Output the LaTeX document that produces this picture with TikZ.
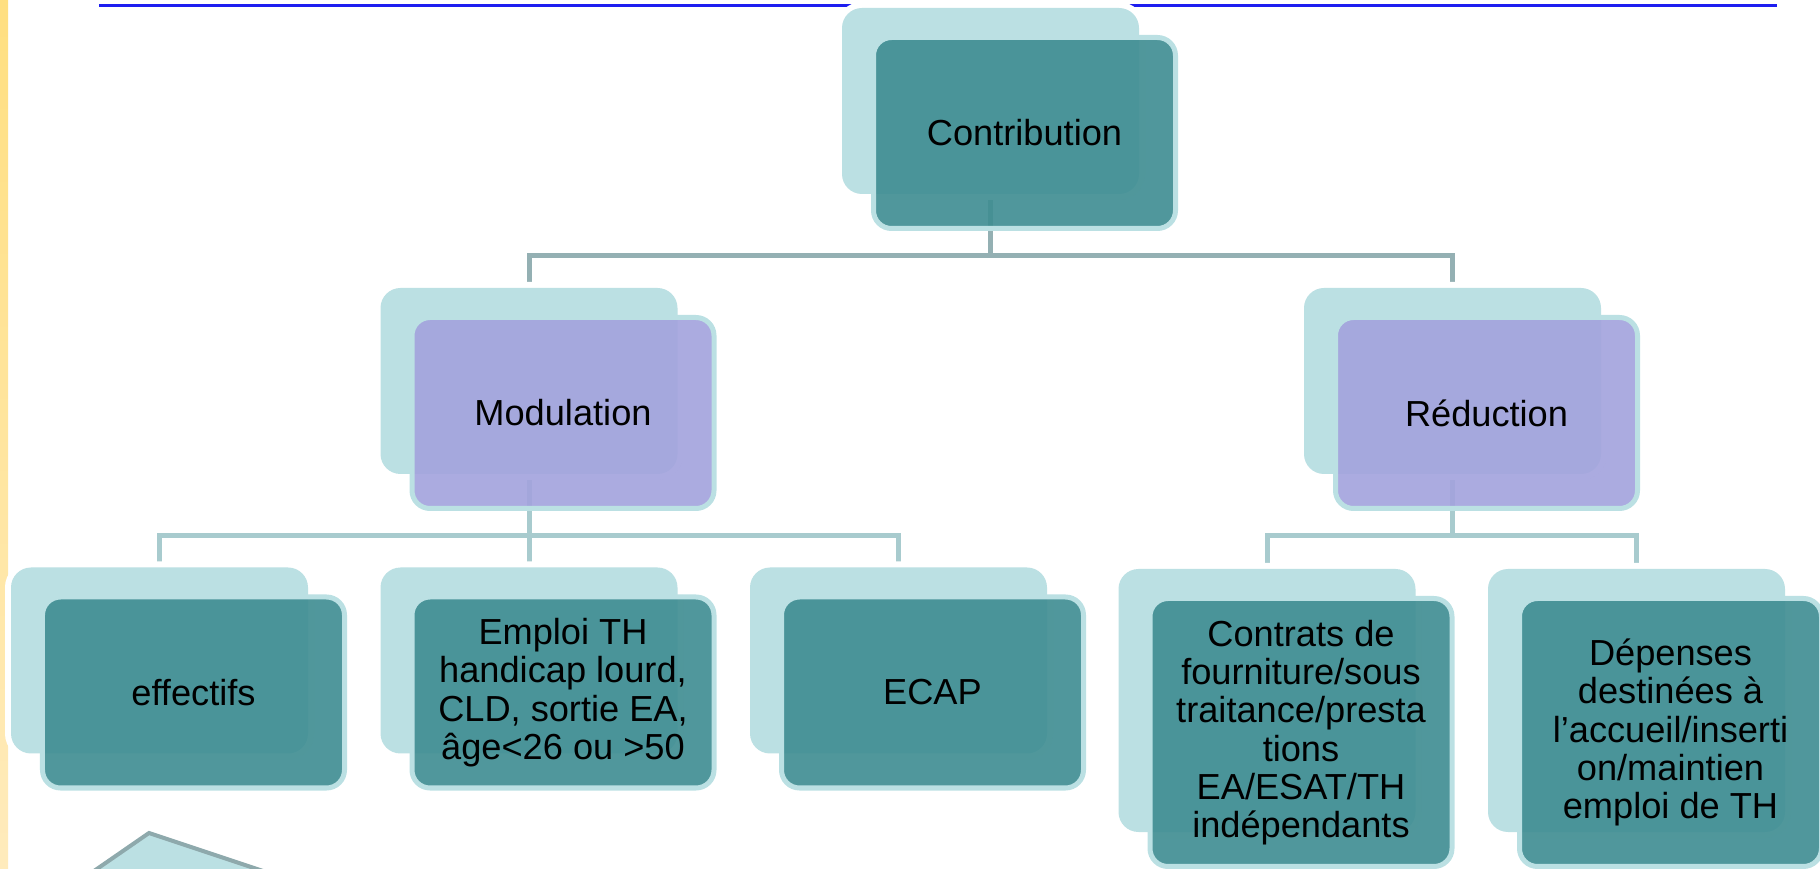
\documentclass[tikz,border=0pt]{standalone}
\usepackage{fontspec}
\setmainfont{Liberation Sans}
\usetikzlibrary{backgrounds}
\definecolor{boxlight}{HTML}{BBE0E3}
\definecolor{boxteal}{HTML}{3F8D92}
\definecolor{boxviolet}{HTML}{A3A3DD}
\definecolor{linkgrey}{HTML}{94B0B3}
\definecolor{linklight}{HTML}{A8CBCE}
\definecolor{ruleblue}{HTML}{1E1EF0}
\definecolor{shapeedge}{HTML}{8EA9AC}
\begin{document}
\begin{tikzpicture}
\tikzstyle{back}=[rectangle,rounded corners=0.2cm,fill=boxlight,preaction={draw=white,line width=0.12cm},minimum width=2.97cm,minimum height=1.86cm,inner sep=0pt,outer sep=0pt]
\tikzstyle{front}=[rectangle,rounded corners=0.18cm,draw=boxlight,line width=0.05cm,fill=boxteal,fill opacity=0.91,text opacity=1,minimum width=3.02cm,minimum height=1.91cm,inner sep=0pt,outer sep=0pt,align=center,font=\fontsize{10.3pt}{10.9pt}\selectfont]
\tikzstyle{link}=[linkgrey,line width=0.05cm]
\useasboundingbox (0,0) rectangle (18.2,-8.69);
\shade[top color={rgb,255:red,255;green,223;blue,128},bottom color={rgb,255:red,255;green,235;blue,188}] (0,0) rectangle (0.08,-8.69);
\node[back] (ContribB) at (9.905,-1.01) {};
\node[front] (Contrib) at (10.245,-1.33) {Contribution};
\node[back] (ModB) at (5.29,-3.81) {};
\node[front,fill=boxviolet] (Mod) at (5.63,-4.13) {Modulation};
\node[back] (RedB) at (14.525,-3.81) {};
\node[front,fill=boxviolet] (Red) at (14.865,-4.13) {Réduction};
\node[back] (EffB) at (1.595,-6.605) {};
\node[front] (Eff) at (1.935,-6.925) {effectifs};
\node[back] (EmpB) at (5.29,-6.605) {};
\node[front] (Emp) at (5.63,-6.925) {Emploi TH\\handicap lourd,\\CLD, sortie EA,\\âge<26 ou >50};
\node[back] (EcapB) at (8.985,-6.605) {};
\node[front] (Ecap) at (9.325,-6.925) {ECAP};
\node[back,minimum height=2.63cm] (ConB) at (12.67,-7.005) {};
\node[front,minimum height=2.68cm] (Con) at (13.01,-7.325) {Contrats de\\fourniture/sous\\traitance/presta\\tions\\EA/ESAT/TH\\indépendants};
\node[back,minimum height=2.63cm] (DepB) at (16.365,-7.005) {};
\node[front,minimum height=2.68cm] (Dep) at (16.705,-7.325) {Dépenses\\destinées à\\l’accueil/inserti\\on/maintien\\emploi de TH};
\begin{scope}[on background layer]
\draw[ruleblue,line width=0.03cm] (0.99,-0.055) -- (17.77,-0.055);
\draw[link] (ContribB.south) -- ++(0,-0.62) -| (ModB.north);
\draw[link] (ContribB.south) -- ++(0,-0.62) -| (RedB.north);
\draw[link,linklight] (ModB.south) -- ++(0,-0.62) -| (EffB.north);
\draw[link,linklight] (ModB.south) -- ++(0,-0.62) -| (EmpB.north);
\draw[link,linklight] (ModB.south) -- ++(0,-0.62) -| (EcapB.north);
\draw[link,linklight] (RedB.south) -- ++(0,-0.62) -| (ConB.north);
\draw[link,linklight] (RedB.south) -- ++(0,-0.62) -| (DepB.north);
\end{scope}
\draw[shapeedge,fill=boxlight,line width=0.04cm] (0.52,-9.0) -- (1.49,-8.33) -- (3.5,-9.0);
\end{tikzpicture}
\end{document}
